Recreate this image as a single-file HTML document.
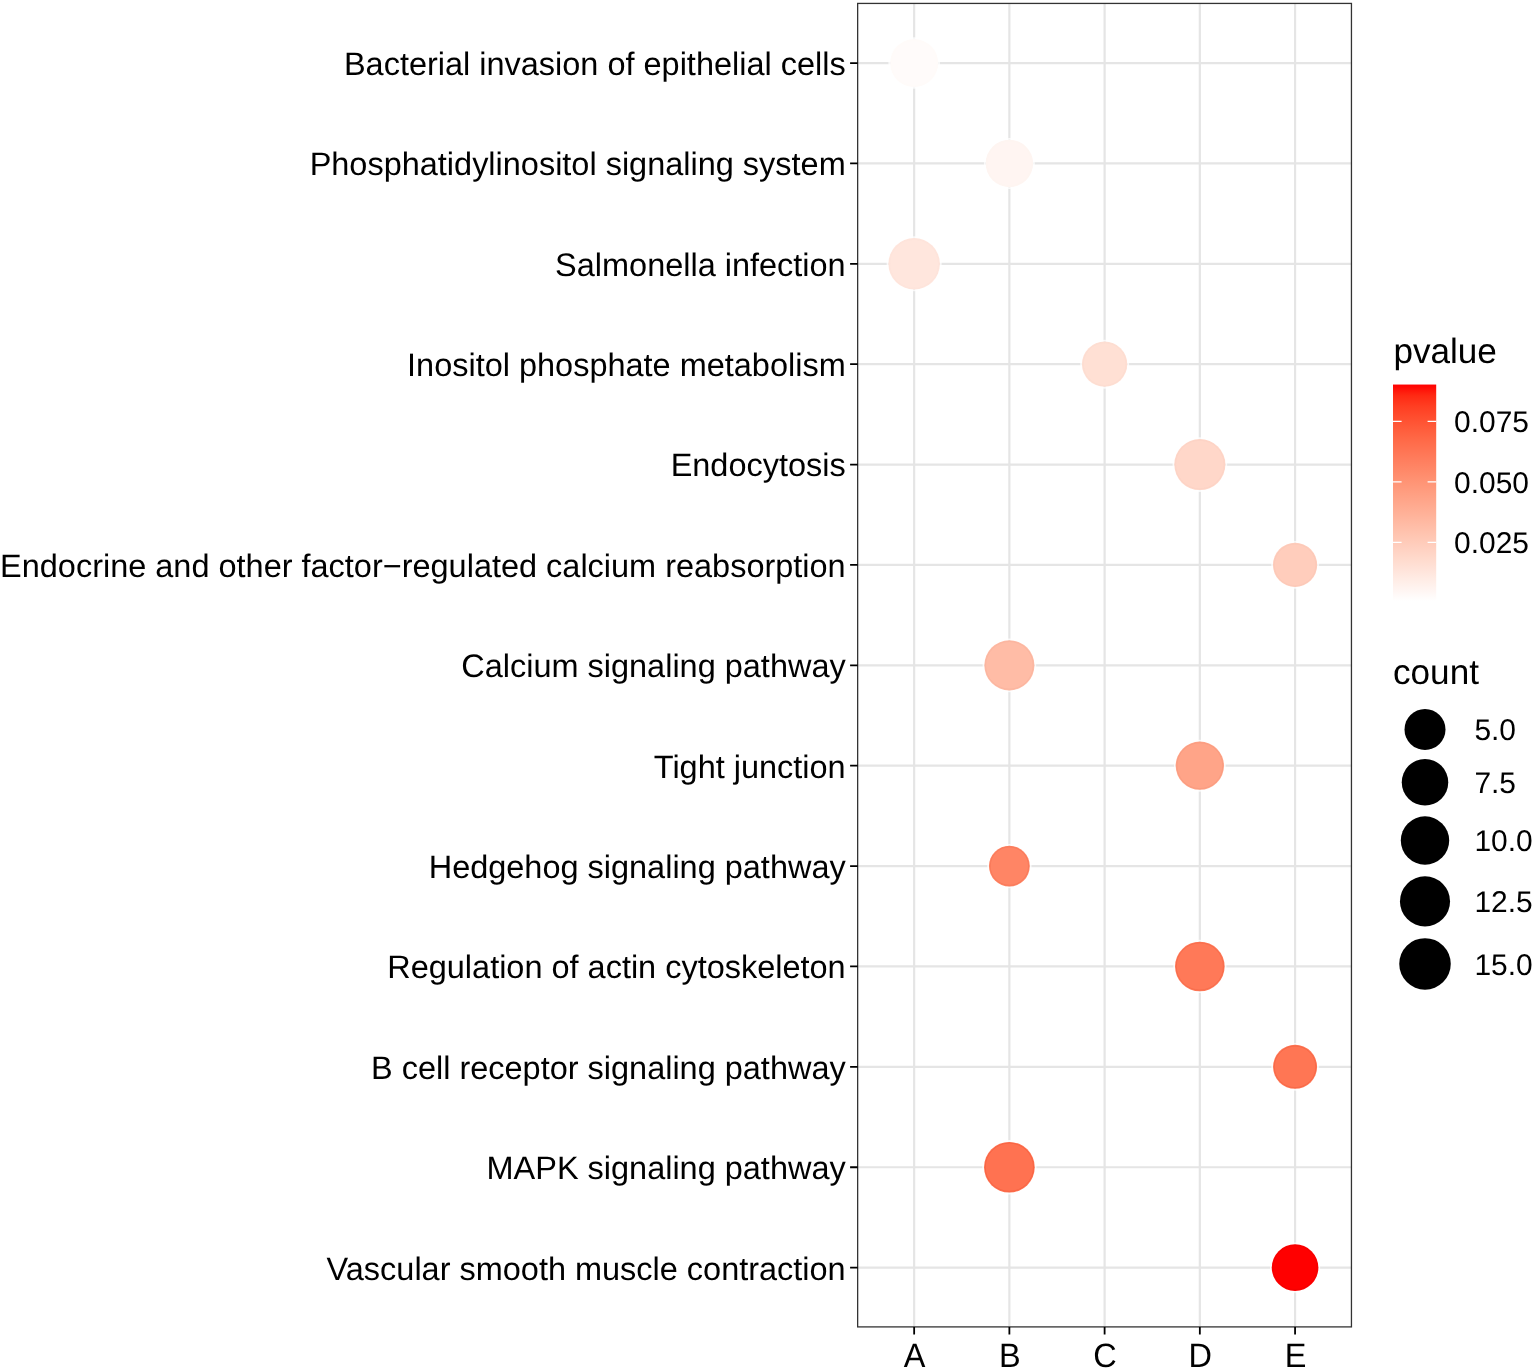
<!DOCTYPE html><html><head><meta charset="utf-8"><style>html,body{margin:0;padding:0;background:#fff}svg{display:block}text{font-family:"Liberation Sans",Arial,sans-serif;text-rendering:geometricPrecision}</style></head><body>
<svg width="1534" height="1371" viewBox="0 0 1534 1371">
<rect width="1534" height="1371" fill="#fff"/>
<path d="M857.65 63.05H1351.45M857.65 163.43H1351.45M857.65 263.81H1351.45M857.65 364.19H1351.45M857.65 464.57H1351.45M857.65 564.95H1351.45M857.65 665.33H1351.45M857.65 765.71H1351.45M857.65 866.09H1351.45M857.65 966.47H1351.45M857.65 1066.85H1351.45M857.65 1167.23H1351.45M857.65 1267.61H1351.45M914.15 3.43V1326.90M1009.38 3.43V1326.90M1104.61 3.43V1326.90M1199.84 3.43V1326.90M1295.07 3.43V1326.90" stroke="#e5e5e5" stroke-width="2.2" fill="none"/>
<g fill="none" stroke="#fff" stroke-width="1.8" stroke-opacity="0.75"><circle cx="914.15" cy="63.05" r="24.90"/><circle cx="1009.38" cy="163.43" r="24.60"/><circle cx="914.15" cy="263.81" r="26.65"/><circle cx="1104.61" cy="364.19" r="23.55"/><circle cx="1199.84" cy="464.57" r="26.45"/><circle cx="1295.07" cy="564.95" r="23.00"/><circle cx="1009.38" cy="665.33" r="25.95"/><circle cx="1199.84" cy="765.71" r="25.05"/><circle cx="1009.38" cy="866.09" r="21.30"/><circle cx="1199.84" cy="966.47" r="25.70"/><circle cx="1295.07" cy="1066.85" r="22.90"/><circle cx="1009.38" cy="1167.23" r="26.25"/><circle cx="1295.07" cy="1267.61" r="24.20"/></g>
<circle cx="914.15" cy="63.05" r="24.00" fill="#fffbfa"/>
<circle cx="914.15" cy="63.05" r="22.80" fill="none" stroke="#fffbf9" stroke-width="1"/>
<circle cx="1009.38" cy="163.43" r="23.70" fill="#fff5f2"/>
<circle cx="1009.38" cy="163.43" r="22.50" fill="none" stroke="#fef5f1" stroke-width="1"/>
<circle cx="914.15" cy="263.81" r="25.75" fill="#ffe6dd"/>
<circle cx="914.15" cy="263.81" r="24.55" fill="none" stroke="#fee4db" stroke-width="1"/>
<circle cx="1104.61" cy="364.19" r="22.65" fill="#ffe0d4"/>
<circle cx="1104.61" cy="364.19" r="21.45" fill="none" stroke="#fdddd1" stroke-width="1"/>
<circle cx="1199.84" cy="464.57" r="25.55" fill="#ffd7c9"/>
<circle cx="1199.84" cy="464.57" r="24.35" fill="none" stroke="#fdd3c5" stroke-width="1"/>
<circle cx="1295.07" cy="564.95" r="22.10" fill="#ffcdbc"/>
<circle cx="1295.07" cy="564.95" r="20.90" fill="none" stroke="#fcc9b8" stroke-width="1"/>
<circle cx="1009.38" cy="665.33" r="25.05" fill="#ffbca6"/>
<circle cx="1009.38" cy="665.33" r="23.85" fill="none" stroke="#fbb59f" stroke-width="1"/>
<circle cx="1199.84" cy="765.71" r="24.15" fill="#ffa488"/>
<circle cx="1199.84" cy="765.71" r="22.95" fill="none" stroke="#fa9c80" stroke-width="1"/>
<circle cx="1009.38" cy="866.09" r="20.40" fill="#ff8565"/>
<circle cx="1009.38" cy="866.09" r="19.20" fill="none" stroke="#f97a5a" stroke-width="1"/>
<circle cx="1199.84" cy="966.47" r="24.80" fill="#ff7958"/>
<circle cx="1199.84" cy="966.47" r="23.60" fill="none" stroke="#f86d4c" stroke-width="1"/>
<circle cx="1295.07" cy="1066.85" r="22.00" fill="#ff7654"/>
<circle cx="1295.07" cy="1066.85" r="20.80" fill="none" stroke="#f86948" stroke-width="1"/>
<circle cx="1009.38" cy="1167.23" r="25.35" fill="#ff7251"/>
<circle cx="1009.38" cy="1167.23" r="24.15" fill="none" stroke="#f86544" stroke-width="1"/>
<circle cx="1295.07" cy="1267.61" r="23.30" fill="#ff0000"/>
<circle cx="1295.07" cy="1267.61" r="22.10" fill="none" stroke="#f50000" stroke-width="1"/>
<rect x="857.65" y="3.43" width="493.80" height="1323.47" fill="none" stroke="#333" stroke-width="1.3"/>
<path d="M850.10 63.05H857.65M850.10 163.43H857.65M850.10 263.81H857.65M850.10 364.19H857.65M850.10 464.57H857.65M850.10 564.95H857.65M850.10 665.33H857.65M850.10 765.71H857.65M850.10 866.09H857.65M850.10 966.47H857.65M850.10 1066.85H857.65M850.10 1167.23H857.65M850.10 1267.61H857.65M914.15 1326.90V1334.40M1009.38 1326.90V1334.40M1104.61 1326.90V1334.40M1199.84 1326.90V1334.40M1295.07 1326.90V1334.40" stroke="#000" stroke-width="1.8" fill="none"/>
<text x="845.7" y="74.95" font-size="32.47" text-anchor="end" fill="#000">Bacterial invasion of epithelial cells</text>
<text x="845.7" y="175.33" font-size="32.47" text-anchor="end" fill="#000">Phosphatidylinositol signaling system</text>
<text x="845.7" y="275.71" font-size="32.47" text-anchor="end" fill="#000">Salmonella infection</text>
<text x="845.7" y="376.09" font-size="32.47" text-anchor="end" fill="#000">Inositol phosphate metabolism</text>
<text x="845.7" y="476.47" font-size="32.47" text-anchor="end" fill="#000">Endocytosis</text>
<text x="845.7" y="576.85" font-size="32.47" text-anchor="end" fill="#000">Endocrine and other factor−regulated calcium reabsorption</text>
<text x="845.7" y="677.23" font-size="32.47" text-anchor="end" fill="#000">Calcium signaling pathway</text>
<text x="845.7" y="777.61" font-size="32.47" text-anchor="end" fill="#000">Tight junction</text>
<text x="845.7" y="877.99" font-size="32.47" text-anchor="end" fill="#000">Hedgehog signaling pathway</text>
<text x="845.7" y="978.37" font-size="32.47" text-anchor="end" fill="#000">Regulation of actin cytoskeleton</text>
<text x="845.7" y="1078.75" font-size="32.47" text-anchor="end" fill="#000">B cell receptor signaling pathway</text>
<text x="845.7" y="1179.13" font-size="32.47" text-anchor="end" fill="#000">MAPK signaling pathway</text>
<text x="845.7" y="1279.51" font-size="32.47" text-anchor="end" fill="#000">Vascular smooth muscle contraction</text>
<text transform="translate(914.55 1366.7) scale(1 1.04)" font-size="32.47" text-anchor="middle" fill="#000">A</text>
<text transform="translate(1009.78 1366.7) scale(1 1.04)" font-size="32.47" text-anchor="middle" fill="#000">B</text>
<text transform="translate(1105.01 1366.7) scale(1 1.04)" font-size="32.47" text-anchor="middle" fill="#000">C</text>
<text transform="translate(1200.24 1366.7) scale(1 1.04)" font-size="32.47" text-anchor="middle" fill="#000">D</text>
<text transform="translate(1295.47 1366.7) scale(1 1.04)" font-size="32.47" text-anchor="middle" fill="#000">E</text>
<text x="1393.4" y="363.2" font-size="35.13" fill="#000">pvalue</text>
<defs><linearGradient id="cb" x1="0" y1="0" x2="0" y2="1"><stop offset="0.000" stop-color="#ff0000"/><stop offset="0.050" stop-color="#ff2913"/><stop offset="0.100" stop-color="#ff3e22"/><stop offset="0.150" stop-color="#ff4d2e"/><stop offset="0.200" stop-color="#ff5b3a"/><stop offset="0.250" stop-color="#ff6846"/><stop offset="0.300" stop-color="#ff7352"/><stop offset="0.350" stop-color="#ff7e5e"/><stop offset="0.400" stop-color="#ff8969"/><stop offset="0.450" stop-color="#ff9475"/><stop offset="0.500" stop-color="#ff9e81"/><stop offset="0.550" stop-color="#ffa88d"/><stop offset="0.600" stop-color="#ffb299"/><stop offset="0.650" stop-color="#ffbca6"/><stop offset="0.700" stop-color="#ffc6b2"/><stop offset="0.750" stop-color="#ffcfbf"/><stop offset="0.800" stop-color="#ffd9cb"/><stop offset="0.850" stop-color="#ffe2d8"/><stop offset="0.900" stop-color="#ffece5"/><stop offset="0.950" stop-color="#fff5f2"/><stop offset="1.000" stop-color="#ffffff"/></linearGradient></defs>
<rect x="1393.0" y="384.55" width="43.20" height="216.45" fill="url(#cb)"/>
<path d="M1393.0 421.3h8.6M1436.2 421.3h-8.6M1393.0 481.85h8.6M1436.2 481.85h-8.6M1393.0 542.4h8.6M1436.2 542.4h-8.6" stroke="#fff" stroke-width="1.2" fill="none"/>
<text x="1454.1" y="432.05" font-size="29.95" fill="#000">0.075</text>
<text x="1454.1" y="492.60" font-size="29.95" fill="#000">0.050</text>
<text x="1454.1" y="553.15" font-size="29.95" fill="#000">0.025</text>
<text x="1393.0" y="683.8" font-size="35.13" fill="#000">count</text>
<circle cx="1425" cy="729.4" r="20.50" fill="#000"/>
<text x="1474.4" y="740.15" font-size="29.95" fill="#000">5.0</text>
<circle cx="1425" cy="782.3" r="23.25" fill="#000"/>
<text x="1474.4" y="793.05" font-size="29.95" fill="#000">7.5</text>
<circle cx="1425" cy="840.5" r="24.20" fill="#000"/>
<text x="1474.4" y="851.25" font-size="29.95" fill="#000">10.0</text>
<circle cx="1425" cy="901.4" r="25.05" fill="#000"/>
<text x="1474.4" y="912.15" font-size="29.95" fill="#000">12.5</text>
<circle cx="1425" cy="963.9" r="25.75" fill="#000"/>
<text x="1474.4" y="974.65" font-size="29.95" fill="#000">15.0</text>
</svg></body></html>
